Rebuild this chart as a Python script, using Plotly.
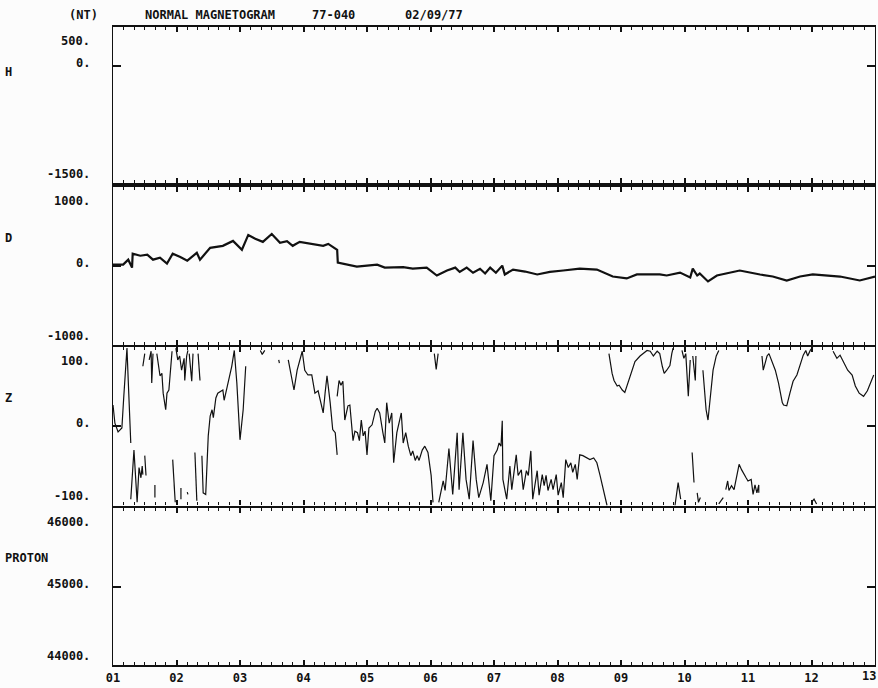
import plotly.graph_objects as go
from plotly.subplots import make_subplots

# ---------------- data ----------------
hour_ticks = list(range(1, 14))
hour_labels = ["%02d" % h for h in hour_ticks]

panel_names = ["H", "D", "Z", "PROTON"]
panel_ranges = [(-1500, 500), (-1000, 1000), (-100, 100), (44000, 46000)]
panel_labels = [["500.", "0.", "-1500."],
                ["1000.", "0.", "-1000."],
                ["100.", "0.", "-100."],
                ["46000.", "45000.", "44000."]]
panel_label_vals = [[500, 0, -1500], [1000, 0, -1000], [100, 0, -100], [46000, 45000, 44000]]

d_hours = [1.00, 1.16, 1.24, 1.30, 1.31, 1.43, 1.54, 1.63, 1.74, 1.85, 1.94, 2.06, 2.17, 2.26,
           2.32, 2.37, 2.45, 2.53, 2.73, 2.89, 3.03, 3.13, 3.24, 3.36, 3.50, 3.63, 3.74, 3.83,
           3.94, 4.15, 4.31, 4.39, 4.53, 4.54, 4.73, 4.84, 5.00, 5.16, 5.28, 5.41, 5.57, 5.72,
           5.94, 6.10, 6.26, 6.39, 6.46, 6.57, 6.67, 6.78, 6.86, 6.94, 7.03, 7.13, 7.17, 7.30,
           7.49, 7.68, 7.88, 8.09, 8.35, 8.62, 8.87, 9.09, 9.25, 9.61, 9.72, 9.93, 10.09, 10.13,
           10.20, 10.24, 10.37, 10.51, 10.87, 11.19, 11.39, 11.61, 11.82, 12.02, 12.45, 12.76, 13.00]
d_values = [12, 12, 75, -25, 150, 125, 138, 75, 100, 25, 150, 110, 62, 120,
            162, 75, 150, 225, 250, 312, 200, 388, 340, 300, 400, 288, 310, 250,
            300, 275, 250, 275, 200, 38, 12, -12, 0, 12, -25, -25, -20, -38,
            -25, -125, -62, -25, -80, -25, -90, -40, -100, -25, -90, 0, -112, -50,
            -75, -112, -80, -62, -38, -50, -138, -162, -112, -112, -125, -88, -150, -38,
            -125, -100, -200, -125, -62, -112, -138, -188, -138, -112, -138, -188, -138]

N = None
z_hours = [
    1.00, 1.03, 1.08, 1.14, 1.17, 1.20, 1.22, 1.24, 1.28, N,
    1.28, 1.33, 1.38, 1.41, 1.44, 1.46, 1.47, N,
    1.50, 1.52, N,
    1.66, 1.66, N,
    1.47, 1.50, N,
    1.57, 1.60, 1.61, 1.63, N,
    1.69, 1.74, 1.77, 1.79, 1.83, 1.85, 1.88, 1.91, 1.93, N,
    1.94, 1.98, N,
    1.99, 2.02, 2.05, 2.08, 2.12, 2.13, 2.16, 2.18, N,
    2.20, 2.24, 2.26, N,
    2.34, 2.37, N,
    2.07, 2.07, N,
    2.17, 2.18, N,
    2.29, 2.32, N,
    2.40, 2.42, 2.46, 2.50, 2.53, 2.56, 2.58, 2.62, 2.65, 2.73, 2.75, 2.80, 2.83, 2.87,
    2.91, 2.95, 3.00, 3.05, 3.09, N,
    3.32, 3.35, 3.39, N,
    3.61, 3.62, N,
    3.76, 3.82, 3.85, 3.90, 3.98, 4.02, 4.07, 4.13, 4.18, 4.23, 4.31, 4.34, 4.37, 4.42,
    4.46, 4.50, 4.53, N,
    4.53, 4.56, 4.59, 4.62, 4.65, 4.70, 4.73, 4.78, 4.81, 4.85, 4.88, 4.91, 4.94, 4.97,
    5.00, 5.03, 5.08, 5.13, 5.16, 5.20, 5.25, 5.28, 5.31, 5.35, 5.39, 5.42, 5.47, 5.54,
    5.57, 5.61, 5.65, 5.69, 5.72, 5.76, 5.79, 5.82, 5.87, 5.91, 5.96, 6.01, 6.04, N,
    6.06, 6.09, 6.12, N,
    6.13, 6.20, 6.23, 6.29, 6.35, 6.42, 6.45, 6.51, 6.56, 6.61, 6.67, 6.72, 6.76, 6.83,
    6.89, 6.95, 7.00, 7.05, 7.08, 7.11, 7.13, 7.14, 7.20, 7.25, 7.28, 7.35, 7.38, 7.43,
    7.46, 7.51, 7.54, 7.58, 7.61, 7.68, 7.71, 7.76, 7.79, 7.82, 7.85, 7.90, 7.93, 7.98,
    8.01, 8.06, 8.09, 8.13, 8.17, 8.21, 8.24, 8.28, 8.31, 8.35, 8.40, 8.46, 8.51, 8.57,
    8.62, 8.67, 8.72, 8.78, N,
    8.81, 8.86, 8.89, 8.94, 8.97, 9.02, 9.06, 9.11, 9.17, 9.22, 9.30, 9.35, 9.41, 9.46,
    9.51, 9.57, 9.61, 9.65, 9.68, 9.72, 9.77, 9.80, 9.82, N,
    9.85, 9.90, 9.94, N,
    9.96, 9.99, 10.02, 10.06, 10.09, N,
    10.13, 10.17, 10.18, N,
    10.29, 10.34, 10.37, 10.40, 10.45, 10.50, 10.54, N,
    10.12, 10.15, N,
    10.20, 10.22, 10.25, N,
    10.54, 10.61, N,
    10.65, 10.68, 10.70, 10.74, 10.78, 10.83, 10.86, 10.90, 10.94, 10.97, 11.00, 11.05,
    11.08, 11.11, 11.14, 11.17, 11.17, N,
    12.00, 12.04, 12.08, N,
    11.22, 11.24, 11.27, 11.30, 11.33, 11.43, 11.48, 11.54, 11.56, 11.61, 11.66, 11.71,
    11.77, 11.82, 11.87, 11.91, 11.94, 11.98, 12.02, N,
    12.34, 12.40, 12.45, 12.51, 12.57, 12.64, 12.69, 12.75, 12.82, 12.88, 12.94, 12.98,
]
z_values = [
    27, 4, -7, -2, 38, 84, 99, 58, -21, N,
    -92, -30, -96, -52, -65, -50, -61, N,
    -37, -62, N,
    -74, -90, N,
    76, 92, N,
    84, 95, 55, 92, N,
    92, 64, 67, 42, 21, 42, 46, 80, 95, N,
    -42, -96, N,
    99, 84, 89, 71, 86, 58, 89, 96, N,
    92, 57, 92, N,
    92, 58, N,
    -78, -92, N,
    -83, -86, N,
    -33, -94, N,
    -37, -84, -86, -12, 13, 21, 11, 36, 42, 46, 33, 51, 64, 76,
    96, 55, -17, 21, 76, N,
    96, 91, 96, N,
    84, 80, N,
    84, 55, 46, 71, 95, 71, 65, 65, 42, 45, 17, 42, 64, 30,
    -4, -8, -36, N,
    38, 58, 52, 57, 8, 26, 27, -18, -6, -8, -18, 8, -12, -6,
    -36, -2, 2, 19, 23, 17, -8, -21, 30, 4, 17, -46, -8, 17,
    -21, -8, -25, -37, -31, -43, -37, -43, -30, -25, -33, -62, -96, N,
    92, 72, 92, N,
    -96, -69, -81, -28, -86, -8, -80, -8, -67, -92, -18, -67, -90, -71,
    -48, -94, -37, -30, -21, -25, 7, -67, -92, -50, -80, -36, -62, -55,
    -80, -56, -62, -31, -92, -56, -87, -61, -75, -62, -81, -67, -80, -61,
    -87, -71, -90, -42, -52, -46, -58, -48, -67, -36, -37, -40, -42, -40,
    -46, -62, -80, -100, N,
    92, 67, 58, 51, 52, 46, 43, 55, 71, 82, 89, 92, 96, 95,
    89, 95, 92, 76, 67, 71, 77, 92, 99, N,
    -100, -71, -92, N,
    96, 86, 92, 38, 84, N,
    89, 58, 89, N,
    71, 21, 8, 33, 71, 89, 96, N,
    -33, -71, N,
    -84, -96, -90, N,
    -98, -90, N,
    -80, -69, -81, -75, -80, -62, -48, -55, -62, -65, -69, -67,
    -86, -74, -84, -74, -84, N,
    -96, -92, -98, N,
    89, 71, 80, 89, 92, 71, 55, 30, 27, 26, 42, 57,
    65, 77, 90, 96, 89, 96, 100, N,
    95, 86, 90, 80, 71, 65, 51, 42, 38, 45, 57, 65,
]

# ---------------- figure ----------------
FONT = "DejaVu Sans Mono"
INK = "#111111"
BG = "#fcfcfc"
TFONT = dict(family=FONT, size=12, color=INK, weight=700)

fig = make_subplots(rows=4, cols=1, shared_xaxes=True, vertical_spacing=0.004)

fig.add_trace(go.Scatter(x=d_hours, y=d_values, mode="lines",
                         line=dict(color=INK, width=2.2), showlegend=False,
                         hoverinfo="skip"), row=2, col=1)
fig.add_trace(go.Scatter(x=z_hours, y=z_values, mode="lines", connectgaps=False,
                         line=dict(color=INK, width=1.2), showlegend=False,
                         hoverinfo="skip"), row=3, col=1)

domains = [[0.755, 1.0], [0.502, 0.750], [0.250, 0.498], [0.0, 0.246]]

# last hour label is drawn as an annotation so it stays inside the page
axis_ticktext = hour_labels[:-1] + [""]

for i in range(4):
    r = i + 1
    lo, hi = panel_ranges[i]
    fig.update_yaxes(range=[lo, hi], domain=domains[i], showgrid=False, zeroline=False,
                     showline=True, linecolor=INK, linewidth=1.3, mirror="ticks",
                     tickvals=[panel_label_vals[i][1]], ticks="inside", ticklen=8,
                     tickwidth=2, tickcolor=INK, showticklabels=False, automargin=False,
                     row=r, col=1)
    fig.update_xaxes(range=[1, 13], showgrid=False, zeroline=False,
                     showline=True, linecolor=INK, linewidth=2.2, mirror="allticks",
                     tickvals=hour_ticks, ticktext=axis_ticktext,
                     ticks="inside", ticklen=5, tickwidth=1.5, tickcolor=INK,
                     minor=dict(dtick=1 / 6, tick0=1, ticks="inside", ticklen=3,
                                tickwidth=1, tickcolor=INK),
                     showticklabels=(r == 4), ticklabeloverflow="allow", automargin=False,
                     tickfont=TFONT,
                     row=r, col=1)

annotations = []
shifts = [-14, 3, 9]
for i in range(4):
    yref = "y" if i == 0 else "y%d" % (i + 1)
    for j in range(3):
        annotations.append(dict(x=-0.027, xref="paper", y=panel_label_vals[i][j], yref=yref,
                                text=panel_labels[i][j], showarrow=False, xanchor="right",
                                yanchor="middle", yshift=shifts[j], font=TFONT))

annotations.append(dict(x=hour_ticks[-1], xref="x4", y=0, yref="paper",
                        text=hour_labels[-1], showarrow=False, xanchor="right",
                        yanchor="top", xshift=3, yshift=-2, font=TFONT))

name_y = [72, 238, 398, 558]  # pixel rows of the panel names
for i in range(4):
    annotations.append(dict(x=-0.145, xref="paper", y=(665 - name_y[i]) / 638, yref="paper",
                            text=panel_names[i], showarrow=False, xanchor="left",
                            yanchor="middle", font=TFONT))

title_parts = ["(NT)", "NORMAL MAGNETOGRAM", "77-040", "02/09/77"]
title_x = [-0.039, 0.127, 0.289, 0.421]
for t, xp in zip(title_parts, title_x):
    annotations.append(dict(x=xp, xref="paper", y=1.0, yref="paper", text=t,
                            showarrow=False, xanchor="center", yanchor="bottom", yshift=3,
                            font=TFONT))

fig.update_layout(
    width=878, height=688,
    margin=dict(l=113, r=3, t=27, b=23),
    paper_bgcolor=BG, plot_bgcolor=BG,
    annotations=annotations,
    showlegend=False,
)

fig.write_html("out.html", config={"displayModeBar": False},
               post_script="document.body.style.margin='0';document.body.style.padding='0';")
